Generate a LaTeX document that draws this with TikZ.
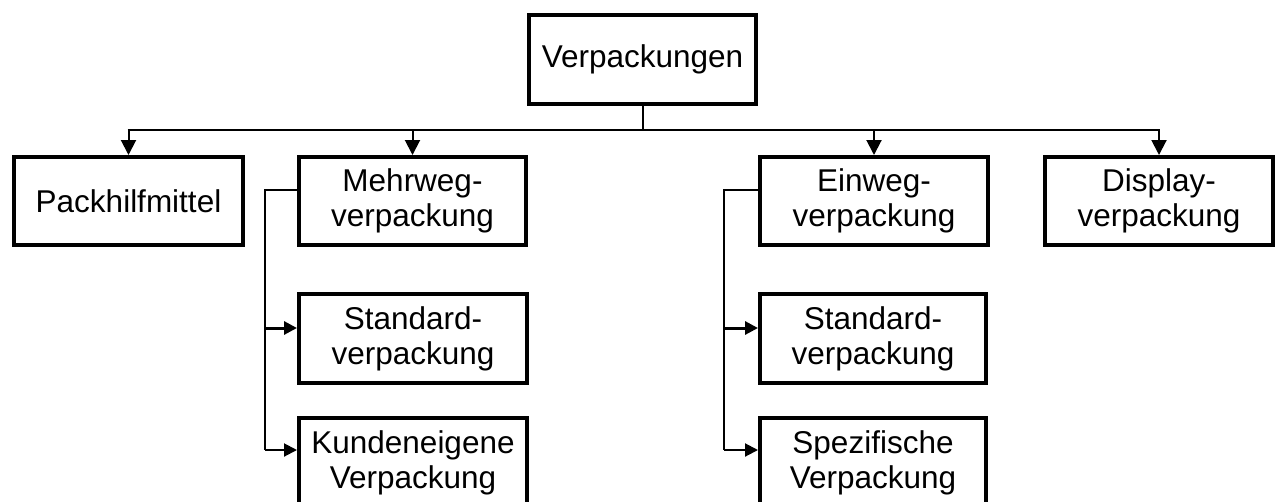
\documentclass[tikz,border=0pt]{standalone}
\usepackage{fontspec}
\setmainfont{Liberation Sans}
\usetikzlibrary{arrows.meta}
\begin{document}
\begin{tikzpicture}[x=1pt,y=-1pt,
  box/.style={draw,line width=4pt,align=center,inner sep=0pt,
    font=\fontsize{31.5}{35}\selectfont},
  conn/.style={line width=2pt},
  bigarrow/.style={conn,-{Triangle[length=15pt,width=15pt]}},
  smallarrow/.style={conn,-{Triangle[length=13pt,width=13pt]}}]
\useasboundingbox (0,0) rectangle (1276,501);
\node[box,minimum width=227pt,minimum height=89pt] (top) at (642.5,59.5) {Verpackungen};
\node[box,minimum width=229pt,minimum height=88pt] (pack) at (128.5,201) {Packhilfmittel};
\node[box,minimum width=227pt,minimum height=88pt] (mehr) at (412.5,201) {Mehrweg-\\verpackung};
\node[box,minimum width=228pt,minimum height=88pt] (ein) at (874,201) {Einweg-\\verpackung};
\node[box,minimum width=228pt,minimum height=88pt] (disp) at (1159,201) {Display-\\verpackung};
\node[box,minimum width=228pt,minimum height=89pt] (std1) at (413,338.5) {Standard-\\verpackung};
\node[box,minimum width=228pt,minimum height=89pt] (kund) at (413,462.5) {Kundeneigene\\Verpackung};
\node[box,minimum width=226pt,minimum height=89pt] (std2) at (873,338.5) {Standard-\\verpackung};
\node[box,minimum width=226pt,minimum height=89pt] (spez) at (873,462.5) {Spezifische\\Verpackung};
\coordinate (bus) at (0,130);
\draw[conn] (top.south) -- (top.south|-bus);
\draw[conn] ([xshift=-1pt]pack.north|-bus) -- ([xshift=1pt]disp.north|-bus);
\foreach \n in {pack,mehr,ein,disp}
  \draw[bigarrow] (\n.north|-bus) -- (\n.north);
% Mehrweg branch
\coordinate (m1) at (265,190);
\coordinate (m2) at (265,328);
\coordinate (m3) at (265,450);
\draw[conn] (mehr.west|-m1) -- (m1) -- (m3);
\draw[smallarrow,line width=3pt] (m2) -- (std1.west|-m2);
\draw[smallarrow] (m3) -- (kund.west|-m3);
% Einweg branch
\coordinate (e1) at (724,190);
\coordinate (e2) at (724,328);
\coordinate (e3) at (724,450);
\draw[conn] (ein.west|-e1) -- (e1) -- (e3);
\draw[smallarrow,line width=3pt] (e2) -- (std2.west|-e2);
\draw[smallarrow] (e3) -- (spez.west|-e3);
\end{tikzpicture}
\end{document}
